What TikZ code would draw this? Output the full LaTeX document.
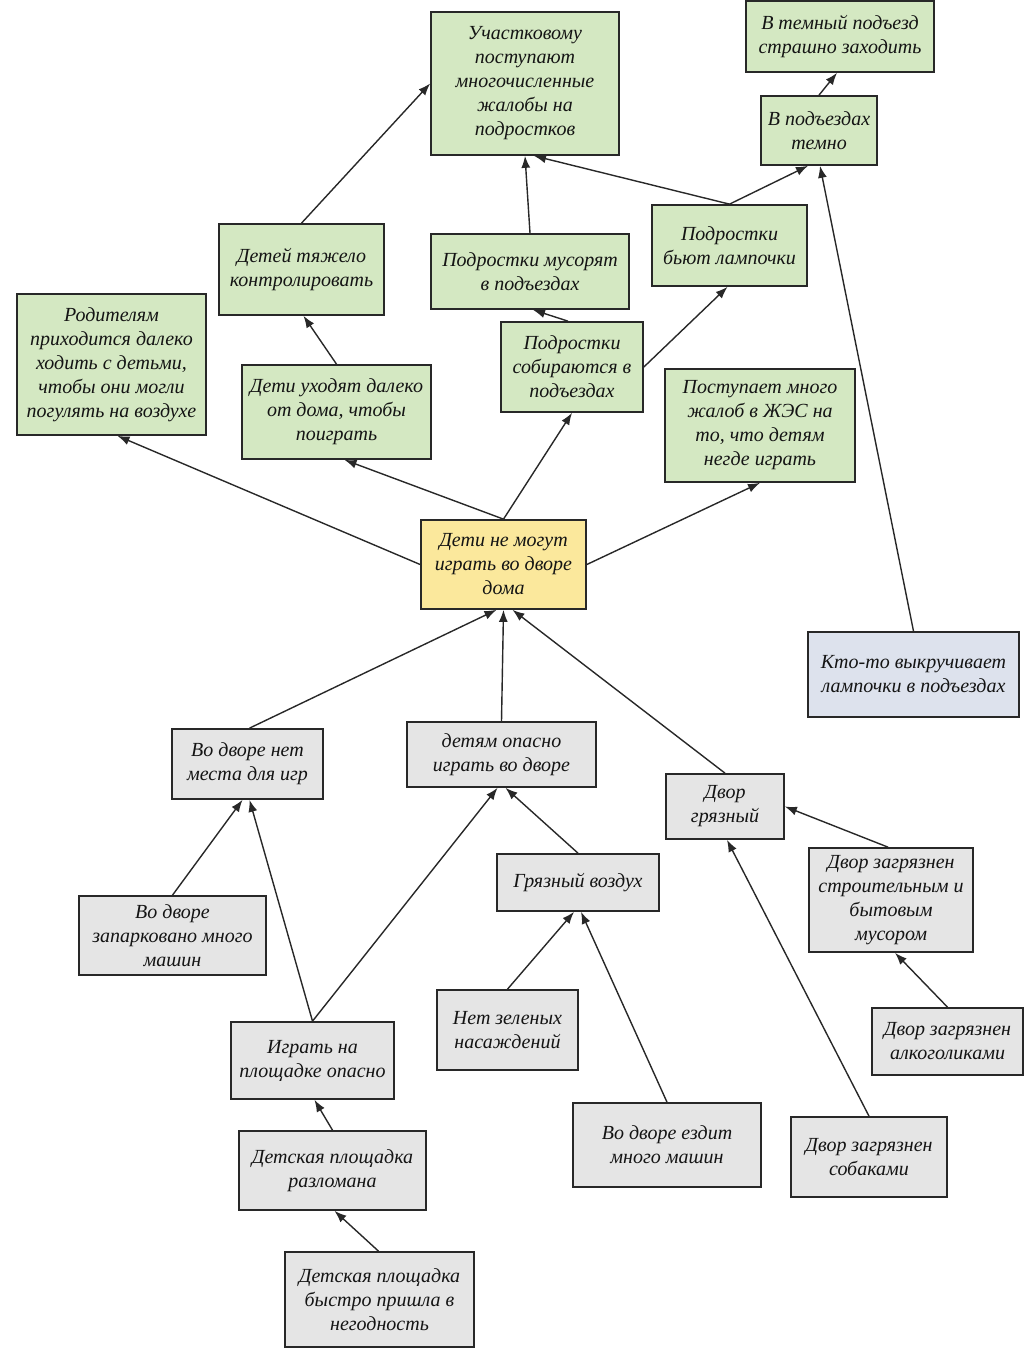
\documentclass[tikz,border=0pt]{standalone}
\usepackage{fontspec}
\setmainfont{Liberation Serif}
\usetikzlibrary{arrows.meta,calc}
\definecolor{gfill}{RGB}{212,232,194}
\definecolor{yfill}{RGB}{251,232,156}
\definecolor{grfill}{RGB}{229,229,229}
\definecolor{bfill}{RGB}{221,226,237}
\definecolor{edge}{RGB}{40,40,40}
\definecolor{txt}{RGB}{20,20,20}
\tikzset{
  box/.style={draw=edge, line width=1.7pt, rectangle, inner sep=0pt, align=center,
    text=txt, font=\fontsize{20}{24}\selectfont\itshape},
  gbox/.style={box, fill=gfill},
  ybox/.style={box, fill=yfill},
  grbox/.style={box, fill=grfill},
  bbox/.style={box, fill=bfill},
  arr/.style={draw=edge, line width=1.4pt, -{Latex[length=12pt,width=9pt]}},
}
\begin{document}
\begin{tikzpicture}[x=1pt,y=-1pt]
\useasboundingbox (0,0) rectangle (1032,1348);
% green
\node[gbox, minimum width=188pt, minimum height=143pt] (k1) at (525,83.5) {Участковому\\поступают\\многочисленные\\жалобы на\\подростков};
\node[gbox, minimum width=188pt, minimum height=71pt] (k2) at (840,36.5) {В темный подъезд\\страшно заходить};
\node[gbox, minimum width=116pt, minimum height=69pt] (k3) at (819,130.5) {В подъездах\\темно};
\node[gbox, minimum width=155pt, minimum height=81pt] (k4) at (729.5,245.5) {Подростки\\бьют лампочки};
\node[gbox, minimum width=198pt, minimum height=75pt] (k5) at (530,271.5) {Подростки мусорят\\в подъездах};
\node[gbox, minimum width=142pt, minimum height=90pt] (k6) at (572,367) {Подростки\\собираются в\\подъездах};
\node[gbox, minimum width=190pt, minimum height=113pt] (k7) at (760,425.5) {Поступает много\\жалоб в ЖЭС на\\то, что детям\\негде играть};
\node[gbox, minimum width=165pt, minimum height=91pt] (k8) at (301.5,269.5) {Детей тяжело\\контролировать};
\node[gbox, minimum width=189pt, minimum height=141pt] (k9) at (111.5,364.5) {Родителям\\приходится далеко\\ходить с детьми,\\чтобы они могли\\погулять на воздухе};
\node[gbox, minimum width=189pt, minimum height=94pt] (k10) at (336.5,412) {Дети уходят далеко\\от дома, чтобы\\поиграть};
% yellow
\node[ybox, minimum width=165pt, minimum height=89pt] (k11) at (503.5,564.5) {Дети не могут\\играть во дворе\\дома};
% blue
\node[bbox, minimum width=211pt, minimum height=85pt] (k12) at (913.5,674.5) {Кто-то выкручивает\\лампочки в подъездах};
% grey
\node[grbox, minimum width=151pt, minimum height=70pt] (k13) at (247.5,764) {Во дворе нет\\места для игр};
\node[grbox, minimum width=189pt, minimum height=65pt] (k14) at (501.5,754.5) {детям опасно\\играть во дворе};
\node[grbox, minimum width=118pt, minimum height=65pt] (k15) at (725,806.5) {Двор\\грязный};
\node[grbox, minimum width=162pt, minimum height=57pt] (k16) at (578,882.5) {Грязный воздух};
\node[grbox, minimum width=187pt, minimum height=79pt] (k17) at (172.5,935.5) {Во дворе\\запарковано много\\машин};
\node[grbox, minimum width=164pt, minimum height=104pt] (k18) at (891,900) {Двор загрязнен\\строительным и\\бытовым\\мусором};
\node[grbox, minimum width=141pt, minimum height=80pt] (k19) at (507.5,1030) {Нет зеленых\\насаждений};
\node[grbox, minimum width=151pt, minimum height=67pt] (k20) at (947.5,1041.5) {Двор загрязнен\\алкоголиками};
\node[grbox, minimum width=163pt, minimum height=77pt] (k21) at (312.5,1060.5) {Играть на\\площадке опасно};
\node[grbox, minimum width=188pt, minimum height=84pt] (k22) at (667,1145) {Во дворе ездит\\много машин};
\node[grbox, minimum width=156pt, minimum height=80pt] (k23) at (869,1157) {Двор загрязнен\\собаками};
\node[grbox, minimum width=187pt, minimum height=79pt] (k24) at (332.5,1170.5) {Детская площадка\\разломана};
\node[grbox, minimum width=189pt, minimum height=95pt] (k25) at (379.5,1299.5) {Детская площадка\\быстро пришла в\\негодность};
% edges
\draw[arr] (k8.north) -- (k1.west);
\draw[arr] (k10.north) -- ([xshift=2pt]k8.south);
\draw[arr] (k5.north) -- (k1.south);
\draw[arr] (k4.north) -- ([xshift=9pt]k1.south);
\draw[arr] (k4.north) -- ([xshift=-11pt]k3.south);
\draw[arr] (k3.north) -- ([xshift=-3pt]k2.south);
\draw[arr] (k12.north) -- ([xshift=1pt]k3.south);
\draw[arr] ([xshift=-4pt]k6.north) -- ([xshift=3pt]k5.south);
\draw[arr] (k6.east) -- ([xshift=-2pt]k4.south);
\draw[arr] (k11.north) -- (k6.south);
\draw[arr] (k11.east) -- (k7.south);
\draw[arr] (k11.north) -- ([xshift=8pt]k10.south);
\draw[arr] (k11.west) -- ([xshift=6pt]k9.south);
\draw[arr] ([xshift=2pt]k13.north) -- ([xshift=-7pt]k11.south);
\draw[arr] (k14.north) -- (k11.south);
\draw[arr] (k15.north) -- ([xshift=9pt]k11.south);
\draw[arr] (k17.north) -- ([xshift=-5pt]k13.south);
\draw[arr] (k21.north) -- ([xshift=2pt]k13.south);
\draw[arr] (k21.north) -- ([xshift=-4pt]k14.south);
\draw[arr] (k16.north) -- ([xshift=4pt]k14.south);
\draw[arr] (k19.north) -- ([xshift=-4pt]k16.south);
\draw[arr] (k22.north) -- ([xshift=3pt]k16.south);
\draw[arr] ([xshift=-3pt]k18.north) -- (k15.east);
\draw[arr] (k23.north) -- ([xshift=2pt]k15.south);
\draw[arr] (k20.north) -- ([xshift=4pt]k18.south);
\draw[arr] (k24.north) -- ([xshift=2pt]k21.south);
\draw[arr] ([xshift=-1pt]k25.north) -- ([xshift=2pt]k24.south);
\end{tikzpicture}
\end{document}
